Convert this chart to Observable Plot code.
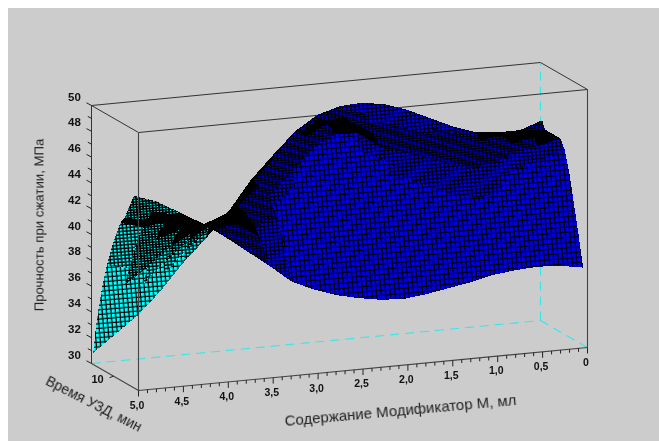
<!DOCTYPE html>
<html><head><meta charset="utf-8">
<script src="https://cdn.jsdelivr.net/npm/d3@7"></script>
<script src="https://cdn.jsdelivr.net/npm/@observablehq/plot@0.6"></script>
<style>
html,body{margin:0;padding:0;background:#fff;overflow:hidden}
#panel{position:absolute;left:8px;top:8px;width:651px;height:433px;background:#ccc}
#chart{position:absolute;left:0;top:0}
svg{display:block;background:transparent!important}
svg text{filter:blur(0.3px)}
</style></head><body><div id="panel"></div><div id="chart"></div>
<script>
// time (min) of every surface row, rear to front
const timeRows = [0.8, 2, 3.3, 4.9, 7, 9, 11, 13.1, 15.1, 17.2, 19.3];
// modifier content (ml) of every surface column
const modifierCols = [5, 4.75, 4.5, 4.25, 4, 3.75, 3.5, 3.25, 3, 2.75, 2.5, 2.25, 2, 1.75, 1.5, 1.25, 1, 0.75, 0.5, 0.25, 0];
// strength (MPa), one list per modifier column
const zM500 = [30.9,33.0,34.7,36.5,38.3,39.8,41.0,42.2,42.8,43.9,44.9];
const zM475 = [32.2,33.5,34.9,36.4,37.9,39.3,40.6,41.7,42.4,43.3,44.3];
const zM450 = [33.5,34.9,36.2,37.6,39.0,40.2,41.1,41.9,42.5,42.9,43.3];
const zM425 = [35.2,36.6,37.8,39.0,39.9,40.7,41.3,41.7,42.1,42.2,42.3];
const zM400 = [37.2,38.3,39.2,40.0,40.6,40.9,41.2,41.3,41.3,41.2,41.1];
const zM375 = [38.9,39.7,40.3,40.8,41.2,41.5,41.6,41.6,41.4,40.7,39.8];
const zM350 = [40.8,41.1,41.4,41.6,41.6,41.5,41.3,40.9,40.3,39.4,38.5];
const zM325 = [43.1,43.2,43.2,43.1,42.9,42.6,42.1,41.4,40.2,38.8,37.1];
const zM300 = [44.9,44.9,44.9,44.8,44.6,44.3,43.5,42.1,40.8,38.7,36.3];
const zM275 = [46.6,46.5,46.5,46.5,46.4,46.1,44.9,42.9,41.2,38.6,35.7];
const zM250 = [47.7,47.6,47.5,47.4,47.2,47.0,45.8,44.1,42.0,38.9,35.3];
const zM225 = [48.2,47.9,47.6,47.4,47.1,46.9,45.6,43.8,41.7,38.6,35.0];
const zM200 = [48.3,47.7,47.1,46.5,46.0,45.6,44.8,43.8,41.5,38.4,34.9];
const zM175 = [48.0,47.3,46.7,46.1,45.6,45.1,44.2,43.3,41.2,38.3,35.1];
const zM150 = [47.4,46.7,46.1,45.5,45.0,44.5,43.6,42.5,40.7,38.2,35.4];
const zM125 = [46.6,46.0,45.5,45.0,44.5,43.9,43.0,41.8,40.2,38.2,35.7];
const zM100 = [45.8,45.3,44.9,44.4,43.9,43.3,42.5,41.5,40.1,38.2,36.1];
const zM075 = [45.2,45.0,44.8,44.5,44.1,43.6,42.7,41.7,40.3,38.5,36.3];
const zM050 = [45.0,45.0,45.0,44.9,44.7,44.2,43.3,42.1,40.5,38.6,36.4];
const zM025 = [45.0,45.1,45.1,45.1,45.1,44.6,43.7,42.4,40.6,38.6,36.3];
const zM000 = [45.6,45.0,45.0,45.0,45.0,45.0,44.3,42.7,40.6,38.4,36.0];
const zCols = [zM500,zM475,zM450,zM425,zM400,zM375,zM350,zM325,zM300,zM275,zM250,zM225,zM200,zM175,zM150,zM125,zM100,zM075,zM050,zM025,zM000];

// axes
const zTicks = d3.range(30, 51);
const zLabels = [30,32,34,36,38,40,42,44,46,48,50];
const mTicks = d3.range(0, 51).map(d => d / 10);
const mLabels = ["0","0,5","1,0","1,5","2,0","2,5","3,0","3,5","4,0","4,5","5,0"];
const timeTicks = [10];
const mMax = 5, tMax = 21.3, zMin = 30, zMax = 50;
const yTitle = "Прочность при сжатии, МПа";
const tTitle = "Время УЗД, мин";
const mTitle = "Содержание Модификатор М, мл";

// oblique view of the chart's box
const px = (m, t) => 91 + 47 * t / tMax + 89.8 * (mMax - m);
const py = (m, t, z) => 363 + 27 * t / tMax - 8.6 * (mMax - m) - 12.9 * (z - zMin);
const pt = (m, t, z) => ({x: px(m, t), y: py(m, t, z)});

// surface cells, painted from the rear row to the front row
const cellPoints = [];
timeRows.slice(0, -1).forEach((t0, i) => {
  const t1 = timeRows[i + 1];
  modifierCols.slice(0, -1).forEach((m0, j) => {
    const m1 = modifierCols[j + 1];
    const q = [pt(m0,t0,zCols[j][i]), pt(m1,t0,zCols[j+1][i]), pt(m1,t1,zCols[j+1][i+1]), pt(m0,t1,zCols[j][i+1])];
    let a = 0;
    q.forEach((p, k) => { const n = q[(k + 1) % 4]; a += p.x * n.y - n.x * p.y; });
    a /= 2;
    const density = Math.abs(a) / (22.45 * (t1 - t0) / tMax);
    const side = a > 0 ? "blue" : "cyan";
    const fill = density < 72 ? "#000" : density < 130 ? `url(#${side}Dense)` : density < 180 ? `url(#${side}Mid)` : `url(#${side}Mesh)`;
    q.forEach(p => cellPoints.push({...p, cell: `${i}-${j}`, fill}));
  });
});

const box = (a, b) => ({x1: px(...a), y1: py(...a), x2: px(...b), y2: py(...b)});
const solid = [
  box([mMax,0,zMax],[0,0,zMax]), box([mMax,tMax,zMax],[0,tMax,zMax]),
  box([mMax,0,zMax],[mMax,tMax,zMax]), box([0,0,zMax],[0,tMax,zMax]),
  box([mMax,0,zMin],[mMax,0,zMax]), box([mMax,tMax,zMin],[mMax,tMax,zMax]), box([0,tMax,zMin],[0,tMax,zMax]),
  box([mMax,0,zMin],[mMax,tMax,zMin]), box([mMax,tMax,zMin],[0,tMax,zMin])
];
const dashed = [box([mMax,0,zMin],[0,0,zMin]), box([0,0,zMin],[0,tMax,zMin]), box([0,0,zMin],[0,0,zMax])];

const defs = () => {
  const mesh = (id, bg, w, h, lw) => `<pattern id="${id}" patternUnits="userSpaceOnUse" width="${w}" height="${h}" patternTransform="rotate(-5)">
    <rect width="${w}" height="${h}" fill="${bg}"/>
    <rect x="0" y="${h-lw}" width="${w}" height="${lw}" fill="#000"/>
    <rect x="${w-lw}" y="0" width="${lw}" height="${h}" fill="#000"/></pattern>`;
  return d3.create("svg:defs").html(
    mesh("blueMesh","#0000e6",4.6,5.2,1.1) + mesh("blueMid","#0000e6",4.2,3.6,1.2) + mesh("blueDense","#0000e6",3.6,2.6,1.4) +
    mesh("cyanMesh","#00ffff",4.4,4.6,1.2) + mesh("cyanMid","#00ffff",3.8,3.4,1.4) + mesh("cyanDense","#00ffff",3.2,2.6,1.6)
  ).node();
};

const ink = "#111";
document.getElementById("chart").append(Plot.plot({
  width: 659, height: 441,
  marginTop: 0, marginRight: 0, marginBottom: 0, marginLeft: 0,
  x: {domain: [0, 659], range: [0, 659], axis: null},
  y: {domain: [0, 441], range: [0, 441], axis: null},
  style: {background: "transparent", fontFamily: "Liberation Sans, Arial, sans-serif"},
  marks: [
    defs,
    Plot.link(dashed, {x1:"x1", y1:"y1", x2:"x2", y2:"y2", stroke:"#35e8e8", strokeWidth:1.1, strokeDasharray:"9,6"}),
    Plot.link(solid.slice(0, 2).concat(solid.slice(2, 5)), {x1:"x1", y1:"y1", x2:"x2", y2:"y2", stroke:"#333", strokeWidth:1}),
    Plot.line(cellPoints, {x:"x", y:"y", z:"cell", fill:"fill", stroke:"none", curve:"linear-closed", shapeRendering:"crispEdges"}),
    Plot.link(solid.slice(5), {x1:"x1", y1:"y1", x2:"x2", y2:"y2", stroke:"#444", strokeWidth:1.1}),
    // strength axis
    Plot.link(zTicks, {x1: d => px(mMax,0), y1: d => py(mMax,0,d),
      x2: d => px(mMax,0) - (d % 2 === 0 ? 5 : 3.7), y2: d => py(mMax,0,d) - (d % 2 === 0 ? 2.7 : 2), stroke:"#222", strokeWidth:1}),
    Plot.text(zLabels, {x: d => px(mMax,0) - 17, y: d => py(mMax,0,d) - 8.5, text: d => String(d),
      fontSize: 11.5, fontWeight:"bold", fill: ink, textAnchor:"middle"}),
    // modifier axis
    Plot.link(mTicks, {x1: d => px(d,tMax), y1: d => py(d,tMax,zMin), x2: d => px(d,tMax),
      y2: d => py(d,tMax,zMin) + ((d * 10) % 5 === 0 ? 6 : 3.5), stroke:"#222", strokeWidth:1}),
    Plot.text(mLabels, {x: (d, i) => px(i / 2,tMax) - 1.5, y: (d, i) => py(i / 2,tMax,zMin) + 15, text: d => d,
      fontSize: 10.5, fontWeight:"bold", fill: ink, textAnchor:"middle", letterSpacing:"-0.6px"}),
    // time axis
    Plot.link(timeTicks, {x1: d => px(mMax,d), y1: d => py(mMax,d,zMin), x2: d => px(mMax,d) - 4, y2: d => py(mMax,d,zMin) + 1.5, stroke:"#222", strokeWidth:1}),
    Plot.text(timeTicks, {x: d => px(mMax,d) - 16, y: d => py(mMax,d,zMin) + 3, text: d => String(d),
      fontSize: 11, fontWeight:"bold", fill: ink, textAnchor:"middle"}),
    // titles
    Plot.text([yTitle], {x: () => 39, y: () => 224.5, text: d => d, rotate: -90, fontSize: 13.2, fill: "#222", textAnchor:"middle"}),
    Plot.text([tTitle], {x: () => 93, y: () => 404, text: d => d, rotate: 27, fontSize: 14, fill: "#222", textAnchor:"middle"}),
    Plot.text([mTitle], {x: () => 400, y: () => 410, text: d => d, rotate: -5.2, fontSize: 15, fill: "#222", textAnchor:"middle"})
  ]
}));
</script></body></html>
